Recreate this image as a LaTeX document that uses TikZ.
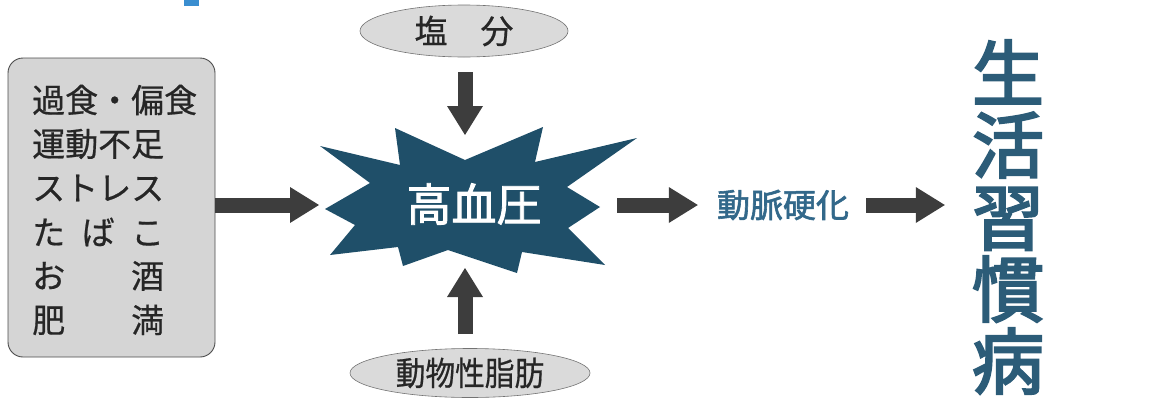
\documentclass[tikz,border=0pt]{standalone}
\usepackage{fontspec}
\newfontfamily\jp[FakeBold=0.6]{Noto Sans CJK JP}
\newfontfamily\jpm[FakeBold=1.8]{Noto Sans CJK JP}
\newfontfamily\jpb[FakeBold=3]{Noto Sans CJK JP}
\usetikzlibrary{arrows.meta,shapes.geometric}
\definecolor{burstc}{HTML}{1F4F69}
\definecolor{diseasec}{HTML}{2C5C78}
\definecolor{atheroc}{HTML}{32688A}
\definecolor{arrowc}{HTML}{3D3D3D}
\definecolor{boxfill}{HTML}{D5D5D5}
\definecolor{pillfill}{HTML}{DADADA}
\definecolor{txtc}{HTML}{262626}
\definecolor{headc}{HTML}{3A8ED0}
\tikzset{
  causebox/.style={draw=black!70, line width=0.9pt, fill=boxfill, rounded corners=15pt,
    minimum width=207pt, minimum height=299pt, inner sep=0pt},
  causeline/.style={anchor=west, inner sep=0pt, text=txtc,
    font=\jp\fontsize{33}{33}\selectfont},
  pill/.style={ellipse, draw=black!55, line width=0.6pt, fill=pillfill, inner sep=0pt,
    text=txtc, font=\jp\fontsize{33}{33}\selectfont},
  blk/.style={draw=arrowc, line width=15pt,
    -{Triangle[width=36pt,length=29pt,line width=0pt]}, color=arrowc},
  burstlabel/.style={text=white, inner sep=0pt, font=\jpm\fontsize{45}{45}\selectfont},
  atherolabel/.style={text=atheroc, inner sep=0pt, font=\jpm\fontsize{33}{33}\selectfont},
  diseaselabel/.style={text=diseasec, inner sep=0pt, align=center,
    font=\jpb\fontsize{72}{72}\selectfont}
}
\begin{document}
\begin{tikzpicture}[x=1pt,y=-1pt]
\useasboundingbox (0,0) rectangle (1156,399);
% header fragment
\fill[headc] (184,0) rectangle (199,6);
% cause box
\node[causebox] (causes) at (111.5,207.5) {};
\node[causeline] (l1) at (32,100) {過食・偏食};
\node[causeline] (l2) at (32,144) {運動不足};
\node[causeline] (l3) at (32,188) {ストレス};
\node[causeline] (l4) at (32,232) {\hbox to 4em{た\hfill ば\hfill こ}};
\node[causeline] (l5) at (32,276) {\hbox to 4em{お\hfill 酒}};
\node[causeline] (l6) at (32,320) {\hbox to 4em{肥\hfill 満}};
% burst
\fill[burstc] (320,146) -- (400,165) -- (395,128) -- (465,160) -- (543,127) -- (535,162)
  -- (637,138) -- (567,187) -- (600,207) -- (568,228) -- (605,265) -- (522,252)
  -- (517,273) -- (448,250) -- (403,266) -- (398,247) -- (330,255) -- (355,225)
  -- (325,209) -- (370,183) -- cycle;
\node[burstlabel] (hbp) at (474,204) {高血圧};
\coordinate (bL) at (319,205);
\coordinate (bT) at (465,135);
\coordinate (bB) at (465,268);
\coordinate (bR) at (617,205);
% ellipses
\node[pill, minimum width=208pt, minimum height=52pt] (salt) at (464,31) {塩　分};
\node[pill, minimum width=240pt, minimum height=49pt] (fat) at (470,373)
  {\scalebox{0.9}[1]{動物性脂肪}};
% right texts
\node[atherolabel] (athero) at (783,205) {動脈硬化};
\node[diseaselabel] (disease) at (1008,217) {生\\活\\習\\慣\\病};
% arrows
\draw[blk] (causes.east |- bL) -- (bL);
\draw[blk, shorten <=15pt] (salt.south -| bT) -- (bT);
\draw[blk, shorten <=14pt] (fat.north -| bB) -- (bB);
\draw[blk, shorten >=19pt] (bR) -- (athero.west);
\draw[blk, shorten <=17pt, shorten >=27pt] (athero.east) -- (athero.east -| disease.west);
\end{tikzpicture}
\end{document}
